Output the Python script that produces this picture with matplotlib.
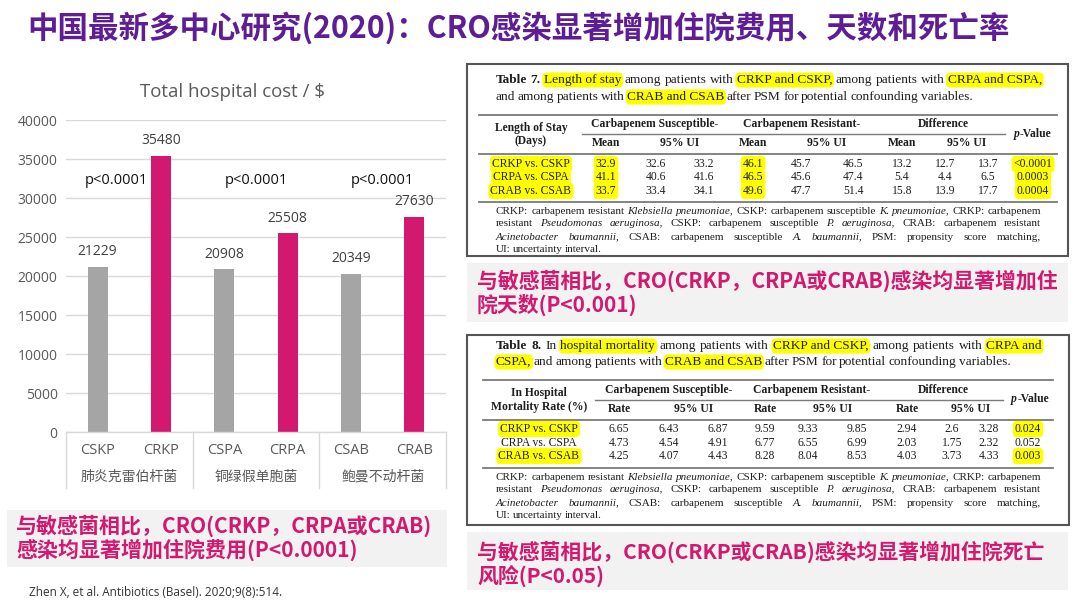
import re
import matplotlib
matplotlib.use('Agg')
import matplotlib.pyplot as plt
from matplotlib.patches import Rectangle

# ------------------------------------------------------------------ data
title = '中国最新多中心研究(2020)：CRO感染显著增加住院费用、天数和死亡率'
chart_title = 'Total hospital cost / $'
strains = ['CSKP', 'CRKP', 'CSPA', 'CRPA', 'CSAB', 'CRAB']
species = ['肺炎克雷伯杆菌', '铜绿假单胞菌', '鲍曼不动杆菌']
total_cost = [21229, 35480, 20908, 25508, 20349, 27630]
group_p = ['p<0.0001', 'p<0.0001', 'p<0.0001']
cost_ticks = [0, 5000, 10000, 15000, 20000, 25000, 30000, 35000, 40000]

callout_cost = ['与敏感菌相比，CRO(CRKP，CRPA或CRAB)', '感染均显著增加住院费用(P<0.0001)']
callout_los = ['与敏感菌相比，CRO(CRKP，CRPA或CRAB)感染均显著增加住', '院天数(P<0.001)']
callout_mort = ['与敏感菌相比，CRO(CRKP或CRAB)感染均显著增加住院死亡', '风险(P<0.05)']
citation = 'Zhen X, et al. Antibiotics (Basel). 2020;9(8):514.'

comparisons = ['CRKP vs. CSKP', 'CRPA vs. CSPA', 'CRAB vs. CSAB']
# Table 7: length of stay (days)
los_sus_mean = ['32.9', '41.1', '33.7']
los_sus_lo = ['32.6', '40.6', '33.4']
los_sus_hi = ['33.2', '41.6', '34.1']
los_res_mean = ['46.1', '46.5', '49.6']
los_res_lo = ['45.7', '45.6', '47.7']
los_res_hi = ['46.5', '47.4', '51.4']
los_diff_mean = ['13.2', '5.4', '15.8']
los_diff_lo = ['12.7', '4.4', '13.9']
los_diff_hi = ['13.7', '6.5', '17.7']
los_p = ['<0.0001', '0.0003', '0.0004']
# Table 8: in-hospital mortality rate (%)
mort_sus_rate = ['6.65', '4.73', '4.25']
mort_sus_lo = ['6.43', '4.54', '4.07']
mort_sus_hi = ['6.87', '4.91', '4.43']
mort_res_rate = ['9.59', '6.77', '8.28']
mort_res_lo = ['9.33', '6.55', '8.04']
mort_res_hi = ['9.85', '6.99', '8.53']
mort_diff_rate = ['2.94', '2.03', '4.03']
mort_diff_lo = ['2.6', '1.75', '3.73']
mort_diff_hi = ['3.28', '2.32', '4.33']
mort_p = ['0.024', '0.052', '0.003']

t7_caption = [
    [('Table 7.', 'b'), (' ', ''), ('Length of stay', 'h'), (' among patients with ', ''),
     ('CRKP and CSKP,', 'h'), (' among patients with ', ''), ('CRPA and CSPA,', 'h')],
    [('and among patients with ', ''), ('CRAB and CSAB', 'h'),
     (' after PSM for potential confounding variables.', '')],
]
t8_caption = [
    [('Table 8.', 'b'), (' In ', ''), ('hospital mortality', 'h'), (' among patients with ', ''),
     ('CRKP and CSKP,', 'h'), (' among patients with ', ''), ('CRPA and', 'h')],
    [('CSPA,', 'h'), (' and among patients with ', ''), ('CRAB and CSAB', 'h'),
     (' after PSM for potential confounding variables.', '')],
]
footnote = [
    [('CRKP: carbapenem resistant ', ''), ('Klebsiella pneumoniae,', 'i'),
     (' CSKP: carbapenem susceptible ', ''), ('K. pneumoniae,', 'i'), (' CRKP: carbapenem', '')],
    [('resistant ', ''), ('Pseudomonas aeruginosa,', 'i'), (' CSKP: carbapenem susceptible ', ''),
     ('P. aeruginosa,', 'i'), (' CRAB: carbapenem resistant', '')],
    [('Acinetobacter baumannii,', 'i'), (' CSAB: carbapenem susceptible ', ''),
     ('A. baumannii,', 'i'), (' PSM: propensity score matching,', '')],
    [('UI: uncertainty interval.', '')],
]

# ------------------------------------------------------------------ style
PURPLE = '#5E1D94'
MAG = '#D3186F'
GRAY = '#A5A5A5'
HL = '#FFFF00'
TXT = '#1E1E1E'
SERIF = 'Liberation Serif'
SANS = 'Open Sans'
CJK = 'Noto Sans CJK SC'
SPACE = 0.72   # word spacing relative to the font's own space

W, H = 1080, 607
fig = plt.figure(figsize=(W / 100, H / 100), dpi=100)
fig.patch.set_facecolor('white')
bg = fig.add_axes([0, 0, 1, 1])
bg.set_xlim(0, W)
bg.set_ylim(H, 0)
bg.axis('off')
R = fig.canvas.get_renderer()


def tw(s, **kw):
    t = bg.text(0, 0, s, **kw)
    w = t.get_window_extent(R).width
    t.remove()
    return w


def st(flags, size, family=SERIF, color=TXT):
    kw = dict(fontsize=size, family=family, color=color)
    if 'b' in flags:
        kw['fontweight'] = 'bold'
    if 'i' in flags:
        kw['fontstyle'] = 'italic'
    return kw


def units_of(segs):
    units = []
    pending = False
    for text, flags in segs:
        if 'h' in flags:
            if text.startswith(' '):
                pending = True
            units.append([text.strip(), flags, pending])
            pending = text.endswith(' ')
        else:
            for p in re.split(r'(\s+)', text):
                if p == '':
                    continue
                if p.isspace():
                    pending = True
                else:
                    units.append([p, flags, pending])
                    pending = False
    return units


def line_metrics(segs, size, family=SERIF):
    units = units_of(segs)
    ws = [tw(u[0], **st(u[1], size, family)) for u in units]
    sw = (tw('a a', **st('', size, family)) - tw('aa', **st('', size, family))) * SPACE
    nsp = sum(1 for u in units[1:] if u[2])
    return units, ws, sw, nsp


def natural(segs, size, family=SERIF):
    units, ws, sw, nsp = line_metrics(segs, size, family)
    return sum(ws) + sw * nsp


def draw_line(x, y, segs, size, target=None, align='left', family=SERIF, color=TXT):
    units, ws, sw, nsp = line_metrics(segs, size, family)
    gap = sw
    if target is not None and nsp > 0:
        gap = (target - sum(ws)) / nsp
    total = sum(ws) + gap * nsp
    cx = x - total / 2 if align == 'center' else x
    for i, (u, w) in enumerate(zip(units, ws)):
        if i > 0 and u[2]:
            cx += gap
        kw = st(u[1], size, family, color)
        if 'h' in u[1]:
            kw['bbox'] = dict(boxstyle='round,pad=0.12,rounding_size=0.35', fc=HL, ec='none')
        bg.text(cx, y, u[0], ha='left', va='center', zorder=3, **kw)
        cx += w


def fit(s, target, base=10, **kw):
    return base * target / tw(s, fontsize=base, **kw)


# ------------------------------------------------------------------ title
ts = fit(title, 982, family=CJK, fontweight='bold')
bg.text(27, 28, title, ha='left', va='center', fontsize=ts, family=CJK,
        fontweight='bold', color=PURPLE)

# ------------------------------------------------------------------ chart
ax = fig.add_axes([66 / W, 1 - 432.3 / H, 380 / W, 312 / H])
ax.patch.set_alpha(0)
xs = list(range(len(strains)))
bar_colors = [GRAY if s.startswith('CS') else MAG for s in strains]
ax.bar(xs, total_cost, width=0.32, color=bar_colors, zorder=2)
ax.set_xlim(-0.5, 5.5)
ax.set_ylim(0, 40000)
ax.set_yticks(cost_ticks)
ax.set_yticklabels([str(v) for v in cost_ticks], family=SANS, fontsize=10, color='#595959')
ax.tick_params(axis='y', length=0, pad=6)
ax.set_xticks([])
ax.grid(axis='y', color='#D9D9D9', lw=1, zorder=0)
for s in ['top', 'right', 'left']:
    ax.spines[s].set_visible(False)
ax.spines['bottom'].set_color('#D9D9D9')
ax.spines['bottom'].set_linewidth(1)

for xi, v in zip(xs, total_cost):
    ax.annotate(f'{v}', (xi, v), xytext=(0, 10.8), textcoords='offset points',
                ha='center', va='center', fontsize=10, family=SANS, color='#404040')

xt = ax.get_xaxis_transform()
for xi, s in zip(xs, strains):
    ax.text(xi, -0.057, s, transform=xt, ha='center', va='center', fontsize=10.5,
            family=SANS, color='#595959')
for g, name in enumerate(species):
    ax.text(2 * g + 0.5, -0.143, name, transform=xt, ha='center', va='center',
            fontsize=10, family=CJK, color='#595959')
for sx in [-0.5, 1.5, 3.5, 5.5]:
    ax.plot([sx, sx], [0, -0.178], transform=xt, color='#D9D9D9', lw=1, clip_on=False)
p_x = [0.29, 2.5, 4.5]
for px, lab in zip(p_x, group_p):
    ax.text(px, 32300, lab, ha='center', va='center', fontsize=10.5, family=SANS, color='#111111')

cs = fit(chart_title, 185, family=SANS)
bg.text(232, 92, chart_title, ha='center', va='center', fontsize=cs, family=SANS, color='#595959')

# ------------------------------------------------------------------ callouts
def callout(x0, y0, x1, y1, lines, tx, ys, width1):
    bg.add_patch(Rectangle((x0, y0), x1 - x0, y1 - y0, fc='#F2F2F2', ec='none', zorder=1))
    size = fit(lines[0], width1, family=CJK, fontweight='bold')
    for ln, yy in zip(lines, ys):
        bg.text(tx, yy, ln, ha='left', va='center', fontsize=size, family=CJK,
                fontweight='bold', color=MAG, zorder=2)


callout(7, 510, 447, 567, callout_cost, 16, [526, 550], 416)
callout(467, 263, 1068, 322, callout_los, 477, [281, 305], 580)
callout(467, 532, 1068, 590, callout_mort, 477, [552, 576], 566)

bg.text(29, 593, citation, ha='left', va='center', family=SANS,
        fontsize=fit(citation, 254, family=SANS), color='#333333')

# ------------------------------------------------------------------ tables
cap_size = 10 * 0.99 * 546 / natural(t7_caption[0], 10)
foot_size = 10 * 0.985 * 545 / natural(footnote[0], 10)
head_size = fit('Carbapenem Susceptible-', 128, family=SERIF, fontweight='bold')
cell_size = fit('CRKP vs. CSKP', 78, family=SERIF)


def hl_text(x, y, s, size, highlight, bold=False):
    kw = dict(fontsize=size, family=SERIF, color=TXT)
    if bold:
        kw['fontweight'] = 'bold'
    if highlight:
        kw['bbox'] = dict(boxstyle='round,pad=0.18,rounding_size=0.35', fc=HL, ec='none')
    bg.text(x, y, s, ha='center', va='center', zorder=3, **kw)


def table(box, caption, cap_y, rules, head, cols, label_x, row_y, columns, hl_rows, hl_cols,
          foot_y, first_col_head):
    x0, y0, x1, y1 = box
    bg.add_patch(Rectangle((x0, y0), x1 - x0, y1 - y0, fill=False, ec='#555555', lw=1.5, zorder=4))
    draw_line(496, cap_y[0], caption[0], cap_size, target=546)
    draw_line(496, cap_y[1], caption[1], cap_size)
    rx0, rx1, ry = rules
    for yy in ry:
        bg.plot([rx0, rx1], [yy, yy], color='#7A7A7A', lw=1.3, zorder=2)
    gy, sub_y, sx0, sx1, group_x, sub_labels, p_xy = head
    bg.plot([sx0, sx1], [sub_y - 9, sub_y - 9], color='#7A7A7A', lw=1.0, zorder=2)
    for gx, gname in zip(group_x, ['Carbapenem Susceptible-', 'Carbapenem Resistant-', 'Difference']):
        hl_text(gx, gy, gname, head_size, False, bold=True)
    for cx, sl in zip([cols[0], (cols[1] + cols[2]) / 2, cols[3], (cols[4] + cols[5]) / 2,
                       cols[6], (cols[7] + cols[8]) / 2], sub_labels):
        hl_text(cx, sub_y, sl, head_size, False, bold=True)
    draw_line(p_xy[0], p_xy[1], [('p', 'bi'), ('-Value', 'b')], head_size, align='center')
    hl_text(label_x, first_col_head[0][1], first_col_head[0][0], head_size, False, bold=True)
    hl_text(label_x, first_col_head[1][1], first_col_head[1][0], head_size, False, bold=True)
    for r, yy in enumerate(row_y):
        hl_text(label_x, yy, comparisons[r], cell_size, r in hl_rows)
        for c, (cx, col) in enumerate(zip(cols, columns)):
            hl_text(cx, yy, col[r], cell_size, (c in hl_cols) and (r in hl_rows))
    for i, (ln, yy) in enumerate(zip(footnote, foot_y)):
        draw_line(496, yy, ln, foot_size, target=545 if i < 3 else None)


table(box=(467, 64, 1068, 256), caption=t7_caption, cap_y=(80, 97),
      rules=(479, 1057, [115, 154, 202]),
      head=(124, 143, 582, 1005, [655, 802, 943],
            ['Mean', '95% UI', 'Mean', '95% UI', 'Mean', '95% UI'], (1033, 134)),
      cols=[606, 656, 704, 753, 801, 853, 902, 945, 988, 1033], label_x=531,
      row_y=[164, 177.5, 191],
      columns=[los_sus_mean, los_sus_lo, los_sus_hi, los_res_mean, los_res_lo, los_res_hi,
               los_diff_mean, los_diff_lo, los_diff_hi, los_p],
      hl_rows=[0, 1, 2], hl_cols=[0, 3, 9], foot_y=[211, 224, 237, 250],
      first_col_head=[('Length of Stay', 128), ('(Days)', 141)])

table(box=(467, 335, 1069, 525), caption=t8_caption, cap_y=(346, 362),
      rules=(483, 1053, [380, 420, 468]),
      head=(390, 409, 595, 1003, [669, 812, 943],
            ['Rate', '95% UI', 'Rate', '95% UI', 'Rate', '95% UI'], (1030, 399)),
      cols=[619, 669, 718, 765, 808, 857, 907, 952, 989, 1028], label_x=539,
      row_y=[429, 443, 456],
      columns=[mort_sus_rate, mort_sus_lo, mort_sus_hi, mort_res_rate, mort_res_lo, mort_res_hi,
               mort_diff_rate, mort_diff_lo, mort_diff_hi, mort_p],
      hl_rows=[0, 2], hl_cols=[9], foot_y=[477, 490, 503, 516],
      first_col_head=[('In Hospital', 393), ('Mortality Rate (%)', 407)])

fig.savefig('out.png', dpi=100)
